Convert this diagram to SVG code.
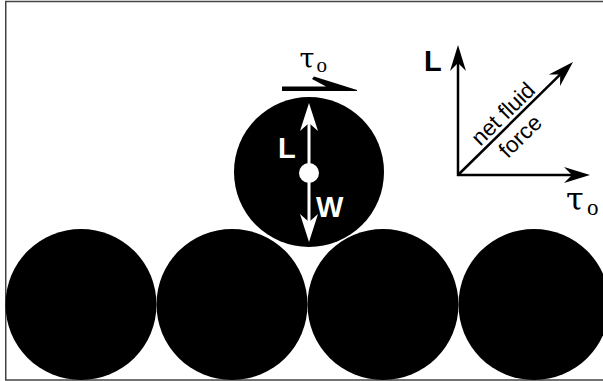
<svg xmlns="http://www.w3.org/2000/svg" width="603" height="381" viewBox="0 0 603 381">
<style>
.grain{fill:#000}
.ax{stroke:#000;stroke-width:2.5;fill:none}
.wa{stroke:#fff;stroke-width:3;fill:none}
.lbl{font-family:"Liberation Sans",Arial,sans-serif;font-weight:bold;font-size:29px}
.tau{font-family:"DejaVu Serif","Liberation Serif",serif}
.sub{font-family:"Liberation Serif","Times New Roman",serif}
.ff{font-family:"Liberation Sans",Arial,sans-serif;font-size:22.5px;fill:#000}
</style>
<defs>
<marker id="ah" markerUnits="userSpaceOnUse" markerWidth="30" markerHeight="20" viewBox="0 -10 30 20" refX="10" refY="0" orient="auto">
<path d="M0,-8 L26,0 L0,8 L8,0 Z" fill="#000"/>
</marker>
<marker id="wh" markerUnits="userSpaceOnUse" markerWidth="30" markerHeight="20" viewBox="0 -10 30 20" refX="10" refY="0" orient="auto">
<path d="M0,-9 L28,0 L0,9 L8,0 Z" fill="#fff"/>
</marker>
</defs>
<rect x="0" y="0" width="603" height="381" fill="#fff"/>
<rect x="5.75" y="1.5" width="650" height="378.5" fill="none" stroke="#444" stroke-width="1.5"/>
<g id="bed">
<circle id="g1" class="grain" cx="81" cy="304.5" r="75.5"/>
<circle id="g2" class="grain" cx="232" cy="304.5" r="75.5"/>
<circle id="g3" class="grain" cx="383" cy="304.5" r="75.5"/>
<circle id="g4" class="grain" cx="534" cy="304.5" r="75.5"/>
</g>
<g id="particle">
<circle class="grain" cx="309" cy="172" r="75"/>
<line class="wa" x1="309" y1="173" x2="309" y2="121" marker-end="url(#wh)"/>
<line class="wa" x1="309" y1="173" x2="309" y2="224" marker-end="url(#wh)"/>
<circle cx="309" cy="173" r="10" fill="#fff"/>
<text class="lbl" x="278" y="158" fill="#fff">L</text>
<text class="lbl" x="316" y="216.5" fill="#fff">W</text>
</g>
<g id="shear">
<path d="M282,86.5 L326,86.5 L312,79 L314,76.5 L357,90 L357,91 L282,91 Z" fill="#000"/>
<text class="tau" x="299.5" y="68.3" font-size="27">τ</text>
<text class="sub" x="316.5" y="71.7" font-size="21">o</text>
</g>
<g id="axes">
<line class="ax" x1="458" y1="176" x2="458" y2="61" marker-end="url(#ah)"/>
<line class="ax" x1="457" y1="175" x2="574" y2="175" marker-end="url(#ah)"/>
<line class="ax" x1="458" y1="175" x2="561.6" y2="73.2" marker-end="url(#ah)"/>
<text class="lbl" x="424" y="71" fill="#000" font-size="30">L</text>
<text class="tau" x="566" y="210" font-size="32">τ</text>
<text class="sub" x="587" y="215" font-size="23">o</text>
<g transform="translate(458,175) rotate(-44.5)">
<text class="ff" x="75" y="-4.5" text-anchor="middle">net fluid</text>
<text class="ff" x="71.5" y="23.5" text-anchor="middle">force</text>
</g>
</g>
</svg>
